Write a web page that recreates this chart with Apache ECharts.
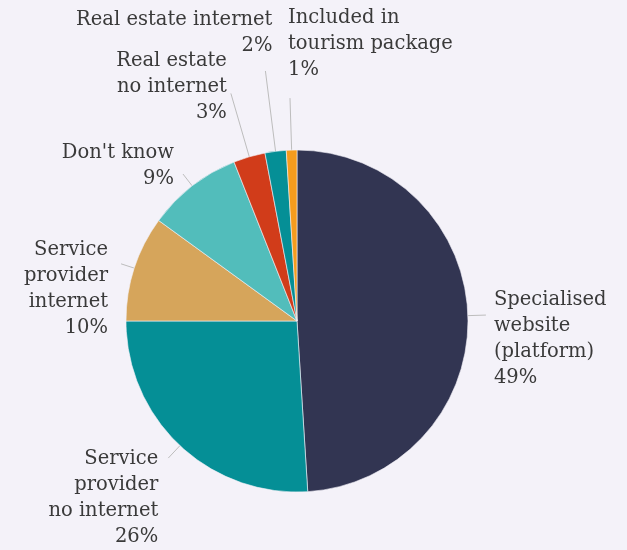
<!DOCTYPE html>
<html>
<head>
<meta charset="utf-8">
<script src="https://cdn.jsdelivr.net/npm/echarts@6/dist/echarts.min.js"></script>
<style>
html,body{margin:0;padding:0;background:#f4f2f9;}
#main{width:627px;height:550px;}
</style>
</head>
<body>
<div id="main"></div>
<script>
// Data
const categories = [
  'Specialised\nwebsite\n(platform)',
  'Service\nprovider\nno internet',
  'Service\nprovider\ninternet',
  "Don't know",
  'Real estate\nno internet',
  'Real estate internet',
  'Included in\ntourism package'
];
const values = [49, 26, 10, 9, 3, 2, 1];
const colors = ['#323552', '#058f96', '#d6a55b', '#52bdbb', '#d13c1a', '#058f96', '#f59c1e'];

// Label line lengths and label placement relative to the line end
const lineLengths = [18, 17, 14, 15, 66, 81, 52];
const labelPlace = [
  {dx: 8, dy: -28, align: 'left'},
  {dx: -10, dy: -12, align: 'right'},
  {dx: -13, dy: -27, align: 'right'},
  {dx: -9, dy: -34, align: 'right'},
  {dx: -4, dy: -45, align: 'right'},
  {dx: 7, dy: -64, align: 'right'},
  {dx: -2, dy: -93, align: 'left'}
];

const chart = echarts.init(document.getElementById('main'));
const data = categories.map((c, i) => ({
  name: c,
  value: values[i],
  itemStyle: {color: colors[i]},
  labelLine: {length: lineLengths[i], length2: 0}
}));

chart.setOption({
  backgroundColor: '#f4f2f9',
  animation: false,
  series: [{
    type: 'pie',
    center: [297, 321],
    radius: 171,
    startAngle: 90,
    clockwise: true,
    avoidLabelOverlap: false,
    data: data,
    itemStyle: {borderColor: '#f4f2f9', borderWidth: 0.6},
    label: {
      show: true,
      position: 'outside',
      formatter: '{b}\n{c}%',
      fontFamily: 'DejaVu Serif',
      fontSize: 19.5,
      lineHeight: 26,
      color: '#3a3a3a'
    },
    labelLine: {
      show: true,
      lineStyle: {color: '#bdbdbd', width: 1}
    },
    labelLayout: function (p) {
      const pts = p.labelLinePoints;
      const end = pts[pts.length - 1];
      const o = labelPlace[p.dataIndex];
      return {
        x: end[0] + o.dx,
        y: end[1] + o.dy,
        align: o.align,
        verticalAlign: 'top',
        labelLinePoints: pts
      };
    }
  }]
});
</script>
</body>
</html>
